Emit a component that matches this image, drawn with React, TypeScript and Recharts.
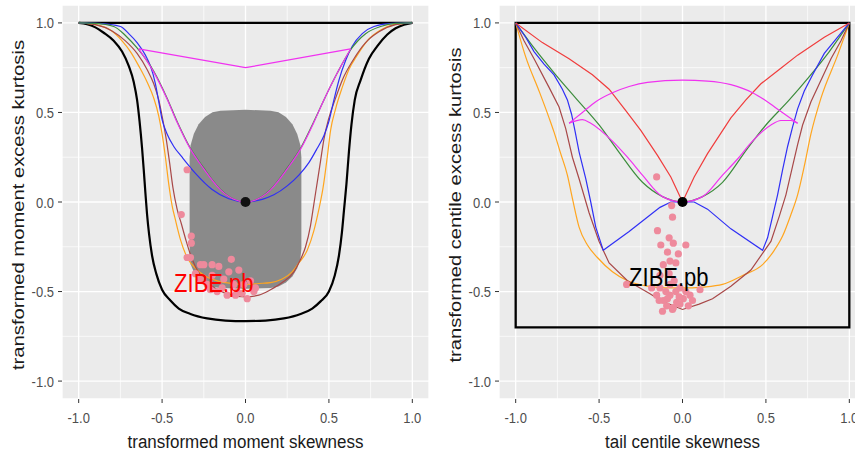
import {
  ComposedChart,
  Line,
  Area,
  Scatter,
  XAxis,
  YAxis,
  CartesianGrid,
  ReferenceLine,
  ReferenceArea,
  Label,
} from 'recharts'

type Pair = [number, number]

const axisTicks = [-1, -0.5, 0, 0.5, 1]
const minorTicks = [-0.75, -0.25, 0.25, 0.75]

// ---- left panel: moment skewness / kurtosis ----
const leftTop: Pair[] = [[-1, 1], [1, 1]]
const leftBoundary: Pair[] = [
  [-1, 1], [-0.95, 0.993], [-0.9, 0.975], [-0.85, 0.945], [-0.79, 0.9], [-0.74, 0.84], [-0.7, 0.76],
  [-0.67, 0.67], [-0.65, 0.57], [-0.635, 0.45], [-0.62, 0.3], [-0.61, 0.18], [-0.6, 0.05], [-0.59, -0.07],
  [-0.578, -0.18], [-0.56, -0.3], [-0.535, -0.4], [-0.5, -0.49], [-0.45, -0.55], [-0.4, -0.595],
  [-0.33, -0.625], [-0.23, -0.65], [-0.12, -0.662], [0, -0.665], [0.12, -0.662], [0.23, -0.65],
  [0.33, -0.625], [0.4, -0.595], [0.45, -0.555], [0.5, -0.5], [0.535, -0.41], [0.56, -0.3], [0.578, -0.17],
  [0.59, -0.05], [0.605, 0.1], [0.62, 0.28], [0.635, 0.43], [0.655, 0.57], [0.69, 0.68], [0.74, 0.8],
  [0.79, 0.87], [0.85, 0.935], [0.9, 0.97], [0.95, 0.99], [1, 1],
]
const leftOrange: Pair[] = [
  [-1, 1], [-0.9, 0.99], [-0.81, 0.96], [-0.74, 0.9], [-0.69, 0.84], [-0.64, 0.76], [-0.59, 0.67],
  [-0.55, 0.58], [-0.52, 0.48], [-0.5, 0.38], [-0.48, 0.25], [-0.46, 0.1], [-0.44, -0.02], [-0.42, -0.1],
  [-0.39, -0.21], [-0.35, -0.31], [-0.3, -0.37], [-0.24, -0.415], [-0.17, -0.44], [-0.08, -0.455], [0, -0.46],
  [0.08, -0.455], [0.15, -0.45], [0.22, -0.43], [0.28, -0.39], [0.32, -0.34], [0.37, -0.27], [0.41, -0.16],
  [0.44, -0.04], [0.465, 0.08], [0.49, 0.25], [0.51, 0.4], [0.54, 0.52], [0.58, 0.64], [0.62, 0.74],
  [0.67, 0.82], [0.73, 0.9], [0.81, 0.96], [0.89, 0.99], [1, 1],
]
const leftBrown: Pair[] = [
  [-1, 1], [-0.9, 0.99], [-0.8, 0.955], [-0.72, 0.9], [-0.65, 0.83], [-0.59, 0.74], [-0.55, 0.66],
  [-0.52, 0.57], [-0.5, 0.48], [-0.475, 0.35], [-0.455, 0.22], [-0.435, 0.08], [-0.41, -0.04], [-0.385, -0.12],
  [-0.355, -0.22], [-0.32, -0.32], [-0.27, -0.41], [-0.2, -0.47], [-0.1, -0.515], [0, -0.53], [0.08, -0.52],
  [0.15, -0.49], [0.22, -0.45], [0.29, -0.39], [0.33, -0.32], [0.36, -0.25], [0.39, -0.13], [0.41, -0.01],
  [0.43, 0.11], [0.45, 0.23], [0.47, 0.35], [0.5, 0.47], [0.54, 0.58], [0.58, 0.68], [0.65, 0.8],
  [0.72, 0.89], [0.8, 0.95], [0.9, 0.99], [1, 1],
]
const leftBlue: Pair[] = [
  [-1, 1], [-0.88, 0.997], [-0.75, 0.98], [-0.7, 0.94], [-0.65, 0.89], [-0.6, 0.82], [-0.57, 0.76],
  [-0.54, 0.66], [-0.52, 0.56], [-0.5, 0.46], [-0.47, 0.38], [-0.43, 0.31], [-0.38, 0.25], [-0.3, 0.16],
  [-0.2, 0.07], [-0.1, 0.018], [0, 0], [0.1, 0.015], [0.17, 0.04], [0.25, 0.09], [0.32, 0.15], [0.38, 0.22],
  [0.43, 0.3], [0.47, 0.37], [0.5, 0.45], [0.53, 0.57], [0.56, 0.68], [0.6, 0.79], [0.64, 0.87], [0.7, 0.94],
  [0.77, 0.98], [0.88, 0.997], [1, 1],
]
const leftGreen: Pair[] = [
  [-1, 1], [-0.9, 0.997], [-0.79, 0.98], [-0.72, 0.93], [-0.65, 0.86], [-0.55, 0.73], [-0.47, 0.58],
  [-0.41, 0.45], [-0.33, 0.3], [-0.25, 0.19], [-0.15, 0.07], [-0.07, 0.015], [0, 0], [0.07, 0.015],
  [0.15, 0.07], [0.25, 0.19], [0.33, 0.3], [0.41, 0.45], [0.47, 0.57], [0.55, 0.72], [0.63, 0.85],
  [0.72, 0.94], [0.81, 0.98], [0.9, 0.997], [1, 1],
]
const leftMagentaTop: Pair[] = [[-0.64, 0.855], [0, 0.75], [0.63, 0.855]]
const leftMagentaLow: Pair[] = [
  [-0.64, 0.855], [-0.55, 0.725], [-0.47, 0.575], [-0.41, 0.445], [-0.33, 0.295], [-0.25, 0.185],
  [-0.15, 0.068], [-0.07, 0.015], [0, 0], [0.07, 0.015], [0.15, 0.068], [0.25, 0.185], [0.33, 0.295],
  [0.41, 0.445], [0.47, 0.57], [0.55, 0.72], [0.63, 0.855],
]
// grey acceptance region: x, lower edge, upper edge
const blobX = [
  -0.335, -0.329, -0.31, -0.281, -0.2425, -0.198, -0.15, 0, 0.15, 0.198, 0.2425, 0.281, 0.31, 0.329, 0.335,
]
const blobLow = [
  -0.3, -0.347, -0.39, -0.427, -0.456, -0.474, -0.48, -0.485, -0.48, -0.4725, -0.45, -0.416, -0.37, -0.317, -0.26,
]
const blobHigh = [
  0.25, 0.317, 0.38, 0.434, 0.475, 0.501, 0.51, 0.515, 0.51, 0.501, 0.475, 0.434, 0.38, 0.317, 0.25,
]
const leftSamples: Pair[] = [
  [-0.35, 0.18], [-0.385, -0.07], [-0.325, -0.19], [-0.325, -0.23], [-0.35, -0.31], [-0.33, -0.31],
  [-0.27, -0.35], [-0.25, -0.35], [-0.2, -0.35], [-0.16, -0.36], [-0.085, -0.32], [-0.04, -0.38],
  [-0.1, -0.39], [-0.27, -0.43], [-0.23, -0.46], [-0.17, -0.5], [-0.11, -0.52], [-0.05, -0.5],
  [0.01, -0.54], [0.05, -0.5], [-0.21, -0.49], [-0.14, -0.48], [-0.07, -0.46], [-0.01, -0.46],
  [0.03, -0.44], [-0.13, -0.43], [-0.2, -0.41], [-0.3, -0.4], [-0.06, -0.52], [0.06, -0.48], [-0.02, -0.51],
]
const leftLabelAt: Pair[] = [[-0.19, -0.455]]

// ---- right panel: centile skewness / kurtosis ----
const rightRed: Pair[] = [
  [-1, 1], [-0.84, 0.89], [-0.68, 0.8], [-0.54, 0.71], [-0.44, 0.63], [-0.34, 0.51], [-0.25, 0.4],
  [-0.15, 0.26], [-0.07, 0.14], [-0.025, 0.05], [0, 0], [0.025, 0.05], [0.07, 0.14], [0.15, 0.27],
  [0.29, 0.47], [0.38, 0.57], [0.47, 0.66], [0.58, 0.74], [0.69, 0.82], [0.85, 0.92], [1, 1],
]
const rightGreen: Pair[] = [
  [-1, 1], [-0.89, 0.86], [-0.76, 0.71], [-0.64, 0.58], [-0.5, 0.43], [-0.39, 0.29], [-0.24, 0.11],
  [-0.12, 0.03], [0, 0], [0.12, 0.03], [0.24, 0.11], [0.39, 0.3], [0.5, 0.43], [0.64, 0.57], [0.76, 0.7],
  [0.88, 0.84], [1, 1],
]
const rightBlue: Pair[] = [
  [-1, 1], [-0.94, 0.92], [-0.89, 0.84], [-0.83, 0.77], [-0.77, 0.71], [-0.72, 0.63], [-0.69, 0.57],
  [-0.665, 0.49], [-0.645, 0.4], [-0.62, 0.28], [-0.58, 0.13], [-0.55, 0], [-0.52, -0.14], [-0.475, -0.27],
  [-0.32, -0.165], [-0.135, -0.03], [-0.07, 0], [0, 0], [0.07, 0], [0.15, -0.04], [0.29, -0.15],
  [0.48, -0.27], [0.51, -0.2], [0.54, -0.08], [0.57, 0.04], [0.6, 0.18], [0.63, 0.31], [0.66, 0.42],
  [0.69, 0.52], [0.73, 0.62], [0.78, 0.71], [0.85, 0.83], [0.92, 0.91], [1, 1],
]
const rightBrown: Pair[] = [
  [-1, 1], [-0.95, 0.9], [-0.89, 0.8], [-0.8, 0.64], [-0.74, 0.53], [-0.7, 0.41], [-0.66, 0.25],
  [-0.62, 0.13], [-0.56, -0.06], [-0.5, -0.22], [-0.44, -0.34], [-0.33, -0.44], [-0.2, -0.51],
  [-0.12, -0.555], [0, -0.6], [0.1, -0.57], [0.18, -0.54], [0.29, -0.47], [0.41, -0.38], [0.53, -0.22],
  [0.58, -0.08], [0.62, 0.04], [0.66, 0.2], [0.69, 0.32], [0.72, 0.43], [0.77, 0.56], [0.83, 0.68],
  [0.89, 0.8], [0.95, 0.9], [1, 1],
]
const rightOrange: Pair[] = [
  [-1, 1], [-0.94, 0.81], [-0.86, 0.62], [-0.8, 0.47], [-0.77, 0.39], [-0.73, 0.27], [-0.69, 0.15],
  [-0.66, 0.02], [-0.62, -0.14], [-0.57, -0.24], [-0.51, -0.31], [-0.42, -0.39], [-0.33, -0.44],
  [-0.21, -0.47], [-0.1, -0.48], [0, -0.48], [0.12, -0.475], [0.24, -0.46], [0.36, -0.41], [0.48, -0.35],
  [0.55, -0.27], [0.6, -0.19], [0.65, -0.07], [0.69, 0.04], [0.73, 0.2], [0.77, 0.38], [0.83, 0.58],
  [0.93, 0.82], [1, 1],
]
const rightMagentaTop: Pair[] = [
  [-0.68, 0.44], [-0.6, 0.5], [-0.52, 0.56], [-0.42, 0.61], [-0.32, 0.645], [-0.21, 0.668], [0, 0.68],
  [0.15, 0.675], [0.29, 0.655], [0.42, 0.61], [0.5, 0.565], [0.59, 0.505], [0.69, 0.44],
]
const rightMagentaLow: Pair[] = [
  [-0.68, 0.44], [-0.6, 0.46], [-0.55, 0.44], [-0.42, 0.34], [-0.33, 0.25], [-0.24, 0.15], [-0.12, 0.03],
  [0, 0], [0.12, 0.03], [0.24, 0.15], [0.33, 0.24], [0.41, 0.33], [0.53, 0.43], [0.59, 0.455],
  [0.65, 0.455], [0.69, 0.44],
]
const rightSamples: Pair[] = [
  [-0.155, 0.14], [-0.065, -0.02], [-0.06, -0.085], [-0.15, -0.16], [-0.08, -0.2], [-0.13, -0.24],
  [-0.055, -0.23], [0.02, -0.24], [-0.09, -0.28], [-0.025, -0.29], [-0.075, -0.33], [-0.115, -0.35],
  [-0.04, -0.34], [-0.135, -0.41], [-0.335, -0.46], [0.105, -0.49], [-0.155, -0.52], [-0.115, -0.55],
  [-0.075, -0.52], [-0.035, -0.56], [0.005, -0.54], [-0.095, -0.58], [-0.055, -0.59], [-0.015, -0.57],
  [-0.12, -0.61], [0.035, -0.58], [-0.185, -0.48], [-0.135, -0.48], [-0.015, -0.48], [-0.075, -0.46],
  [0.045, -0.52], [-0.06, -0.6], [-0.1, -0.5], [-0.04, -0.5], [0.02, -0.5], [-0.08, -0.4], [-0.05, -0.44],
  [-0.14, -0.55], [-0.02, -0.53], [-0.09, -0.54], [0.06, -0.55],
]
const rightLabelAt: Pair[] = [[-0.082, -0.42]]
const origin: Pair[] = [[0, 0]]

const xy = (p: Pair[]) => p.map(([x, y]) => ({ x, y }))
const blob = blobX.map((x, i) => ({ x, r: [blobLow[i], blobHigh[i]] }))

const STRETCH = 1.18
const fmt = (v: number) => v.toFixed(1)

const XTick = (p: any) => (
  <text
    transform={`translate(${p.x},${p.y}) scale(1,${STRETCH})`}
    textAnchor="middle"
    dy="0.72em"
    fontSize={13}
    fill="#4D4D4D"
  >
    {fmt(p.payload.value)}
  </text>
)

const YTick = (p: any) => (
  <text
    transform={`translate(${p.x},${p.y}) scale(1,${STRETCH})`}
    textAnchor="end"
    dy="0.36em"
    fontSize={13}
    fill="#4D4D4D"
  >
    {fmt(p.payload.value)}
  </text>
)

function xTitle(text: string) {
  return (p: any) => {
    const vb = p.viewBox ?? { x: 0, y: 399, width: 367, height: 55 }
    return (
      <text
        transform={`translate(${vb.x + vb.width / 2},${vb.y + 49}) scale(1,1.12)`}
        textAnchor="middle"
        fontSize={17}
        fill="#1A1A1A"
      >
        {text}
      </text>
    )
  }
}

function yTitle(text: string, cx: number, len: number) {
  return (p: any) => {
    const vb = p.viewBox ?? { x: 0, y: 5, width: 62, height: 394 }
    const cy = vb.y + vb.height / 2 + 3
    return (
      <text
        transform={`translate(${vb.x + cx},${cy}) rotate(-90)`}
        textAnchor="middle"
        dominantBaseline="central"
        fontSize={17}
        fill="#1A1A1A"
        textLength={len}
        lengthAdjust="spacingAndGlyphs"
      >
        {text}
      </text>
    )
  }
}

const dotShape = (fill: string, r: number) => (p: any) => <circle cx={p.cx} cy={p.cy} r={r} fill={fill} />
const textShape = (text: string, fill: string) => (p: any) => (
  <text
    transform={`translate(${p.cx},${p.cy}) scale(1,1.15)`}
    textAnchor="middle"
    dominantBaseline="central"
    fontSize={22}
    fill={fill}
  >
    {text}
  </text>
)

const PINK = '#EE8A9C'
const C = {
  red: '#F03C3C',
  green: '#3C8C3C',
  blue: '#2F2FF5',
  brown: '#A84848',
  orange: '#FFA51E',
  magenta: '#F032F0',
}

function curve(data: Pair[], stroke: string, width = 1.2, type: any = 'monotoneX') {
  return (
    <Line
      data={xy(data)}
      dataKey="y"
      type={type}
      stroke={stroke}
      strokeWidth={width}
      dot={false}
      activeDot={false}
      isAnimationActive={false}
    />
  )
}

function Panel({
  width,
  yAxisWidth,
  rightMargin,
  yTitleText,
  yTitleX,
  yTitleLen,
  xTitleText,
  children,
}: any) {
  return (
    <ComposedChart width={width} height={454} margin={{ top: 5, right: rightMargin, bottom: 0, left: 0 }}>
      <CartesianGrid fill="#EBEBEB" stroke="#FFFFFF" strokeWidth={1.3} />
      {minorTicks.map((t) => (
        <ReferenceLine key={`vx${t}`} x={t} stroke="#FFFFFF" strokeWidth={0.7} zIndex={-50} />
      ))}
      {minorTicks.map((t) => (
        <ReferenceLine key={`hy${t}`} y={t} stroke="#FFFFFF" strokeWidth={0.7} zIndex={-50} />
      ))}
      <XAxis
        type="number"
        dataKey="x"
        domain={[-1.1, 1.1]}
        ticks={axisTicks}
        interval={0}
        allowDataOverflow
        axisLine={false}
        tickLine={{ stroke: '#333333' }}
        tickSize={4}
        tickMargin={9}
        height={55}
        tick={XTick}
      >
        <Label content={xTitle(xTitleText)} />
      </XAxis>
      <YAxis
        type="number"
        dataKey="y"
        domain={[-1.1, 1.1]}
        ticks={axisTicks}
        interval={0}
        allowDataOverflow
        axisLine={false}
        tickLine={{ stroke: '#333333' }}
        tickSize={4}
        tickMargin={4}
        width={yAxisWidth}
        tick={YTick}
      >
        <Label content={yTitle(yTitleText, yTitleX, yTitleLen)} />
      </YAxis>
      {children}
    </ComposedChart>
  )
}

export default function App() {
  return (
    <div
      style={{
        position: 'absolute',
        left: 0,
        top: 0,
        width: 855,
        height: 454,
        overflow: 'hidden',
        background: '#FFFFFF',
        fontFamily: '"Liberation Sans", Arial, sans-serif',
      }}
    >
      <div style={{ position: 'absolute', left: 0, top: 0 }}>
        <Panel
          width={430}
          yAxisWidth={62}
          rightMargin={1}
          yTitleText="transformed moment excess kurtosis"
          yTitleX={18.5}
          yTitleLen={330}
          xTitleText="transformed moment skewness"
        >
          <Area
            data={blob}
            dataKey="r"
            type="linear"
            fill="#8A8A8A"
            fillOpacity={1}
            stroke="none"
            isAnimationActive={false}
            activeDot={false}
          />
          {curve(leftTop, '#000000', 2.2, 'linear')}
          {curve(leftBoundary, '#000000', 2.2)}
          {curve(leftOrange, C.orange)}
          {curve(leftBrown, C.brown)}
          {curve(leftBlue, C.blue)}
          {curve(leftGreen, C.green)}
          {curve(leftMagentaLow, C.magenta)}
          {curve(leftMagentaTop, C.magenta, 1.3, 'linear')}
          <Scatter data={xy(leftSamples)} shape={dotShape(PINK, 3.6)} isAnimationActive={false} />
          <Scatter data={xy(origin)} shape={dotShape('#111111', 5)} isAnimationActive={false} />
          <Scatter data={xy(leftLabelAt)} shape={textShape('ZIBE.pb', '#FF0000')} isAnimationActive={false} />
        </Panel>
      </div>
      <div style={{ position: 'absolute', left: 430, top: 0 }}>
        <Panel
          width={436}
          yAxisWidth={69}
          rightMargin={0}
          yTitleText="transformed centile excess kurtosis"
          yTitleX={25}
          yTitleLen={315}
          xTitleText="tail centile skewness"
        >
          <ReferenceArea
            x1={-1}
            x2={1}
            y1={-0.7}
            y2={1}
            fill="none"
            stroke="#000000"
            strokeWidth={2.3}
            ifOverflow="visible"
          />
          {curve(rightOrange, C.orange)}
          {curve(rightBrown, C.brown, 1.2, 'linear')}
          {curve(rightGreen, C.green)}
          {curve(rightBlue, C.blue, 1.2, 'linear')}
          {curve(rightRed, C.red, 1.2, 'linear')}
          {curve(rightMagentaTop, C.magenta)}
          {curve(rightMagentaLow, C.magenta)}
          <Scatter data={xy(rightSamples)} shape={dotShape(PINK, 3.6)} isAnimationActive={false} />
          <Scatter data={xy(rightLabelAt)} shape={textShape('ZIBE.pb', '#000000')} isAnimationActive={false} />
          <Scatter data={xy(origin)} shape={dotShape('#000000', 5)} isAnimationActive={false} />
        </Panel>
      </div>
    </div>
  )
}
